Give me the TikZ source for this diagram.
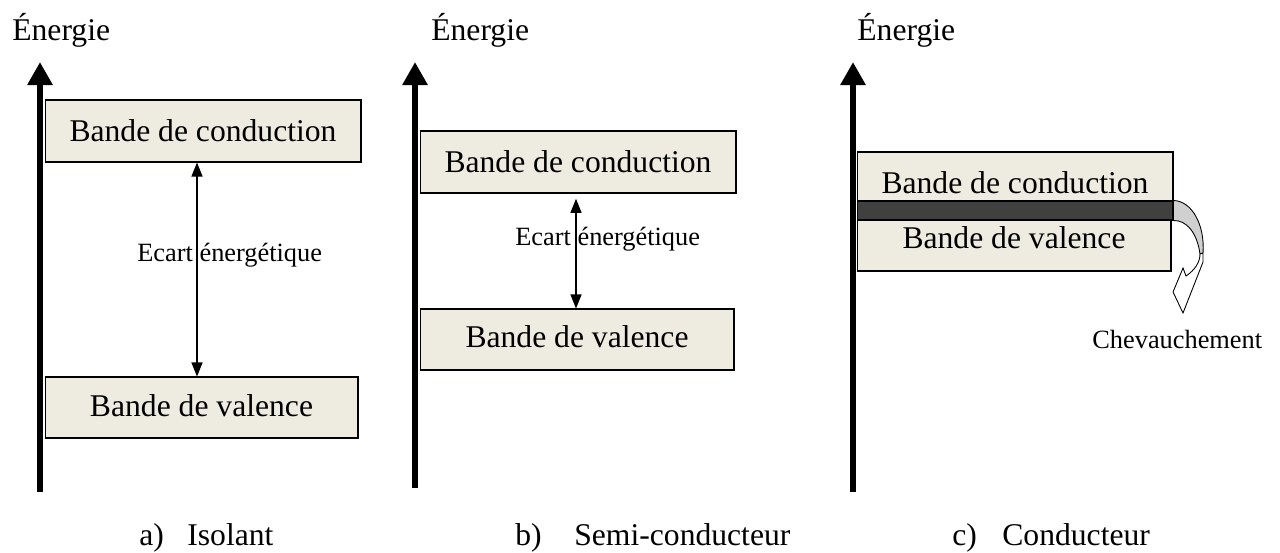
\documentclass[tikz,border=0pt]{standalone}
\usepackage{fontspec}
\setmainfont{Liberation Serif}
\usetikzlibrary{arrows.meta}
\definecolor{fond}{HTML}{EEECE1}
\definecolor{sombre}{HTML}{404040}
\definecolor{gris}{HTML}{D0D0D0}
\begin{document}
\begin{tikzpicture}[x=0.02cm, y=-0.02cm]
\tikzset{bande/.style={draw, fill=fond, line width=0.6pt, inner sep=0pt, font=\fontsize{18}{21}\selectfont},
axe/.style={line width=3.4pt, -{Triangle[width=0.48cm, length=0.46cm]}},
ecart/.style={line width=0.7pt, {Triangle[width=0.22cm, length=0.28cm]}-{Triangle[width=0.22cm, length=0.28cm]}},
petit/.style={inner sep=0pt, anchor=base west, font=\fontsize{15}{18}\selectfont},
titre/.style={inner sep=0pt, anchor=base west, font=\fontsize{18}{21}\selectfont},
texte/.style={inner sep=0pt, anchor=base, font=\fontsize{18}{21}\selectfont}}
\useasboundingbox (0,0) rectangle (1280,552);
% a) isolant
\node[titre] (ea) at (12,40) {Énergie};
\draw[axe] (40,492) -- (40,62);
\node[bande, minimum width=6.32cm, minimum height=1.24cm] (ca) at (203,131) {Bande de conduction};
\node[bande, minimum width=6.26cm, minimum height=1.22cm] (va) at (201.5,407.5) {};
\node[texte] (tva) at (201.5,416) {Bande de valence};
\coordinate (ga) at (197,0);
\draw[ecart] (ca.south -| ga) -- (va.north -| ga);
\node[petit] (la) at (137,261) {Ecart énergétique};
\node[titre] (na) at (139,545) {a)};
\node[titre] (ta) at (187,545) {Isolant};
% b) semi-conducteur
\node[titre] (eb) at (431,40) {Énergie};
\draw[axe] (415,488) -- (415,62);
\node[bande, minimum width=6.32cm, minimum height=1.24cm] (cb) at (578,162) {Bande de conduction};
\node[bande, minimum width=6.28cm, minimum height=1.22cm] (vb) at (577,339.5) {};
\node[texte] (tvb) at (577,347) {Bande de valence};
\coordinate (gb) at (576,0);
\draw[ecart, shorten >=3pt] (vb.north -| gb) -- (cb.south -| gb);
\node[petit] (lb) at (515,245) {Ecart énergétique};
\node[titre] (nb) at (515,545) {b)};
\node[titre] (tb) at (574,545) {Semi-conducteur};
% c) conducteur
\node[titre] (ec) at (857,40) {Énergie};
\draw[axe] (853,492) -- (853,62);
\node[bande, minimum width=6.32cm, minimum height=0.98cm] (cc) at (1015,176.5) {};
\node[texte] (tcc) at (1015,193) {Bande de conduction};
\node[draw, fill=sombre, line width=0.6pt, minimum width=6.32cm, minimum height=0.38cm, inner sep=0pt] (rc) at (1015,210.5) {};
\node[bande, minimum width=6.28cm, minimum height=1.02cm] (vc) at (1014,245.5) {};
\node[texte] (tvc) at (1014,248) {Bande de valence};
\filldraw[fill=gris, line width=0.5pt] (rc.north east) .. controls (1192,201) and (1205,225) .. (1203,253)
  -- (1200,254) .. controls (1197,232) and (1186,220) .. (rc.south east) -- cycle;
\filldraw[fill=white, line width=0.5pt] (1203,253) -- (1203,262) -- (1183,313) -- (1173,292) -- (1183,268)
  -- (1186,276) .. controls (1195,270) and (1200,262) .. (1200,254) -- cycle;
\node[petit] (lc) at (1092,348) {Chevauchement};
\node[titre] (nc) at (952,545) {c)};
\node[titre] (tc) at (1002,545) {Conducteur};
\end{tikzpicture}
\end{document}
